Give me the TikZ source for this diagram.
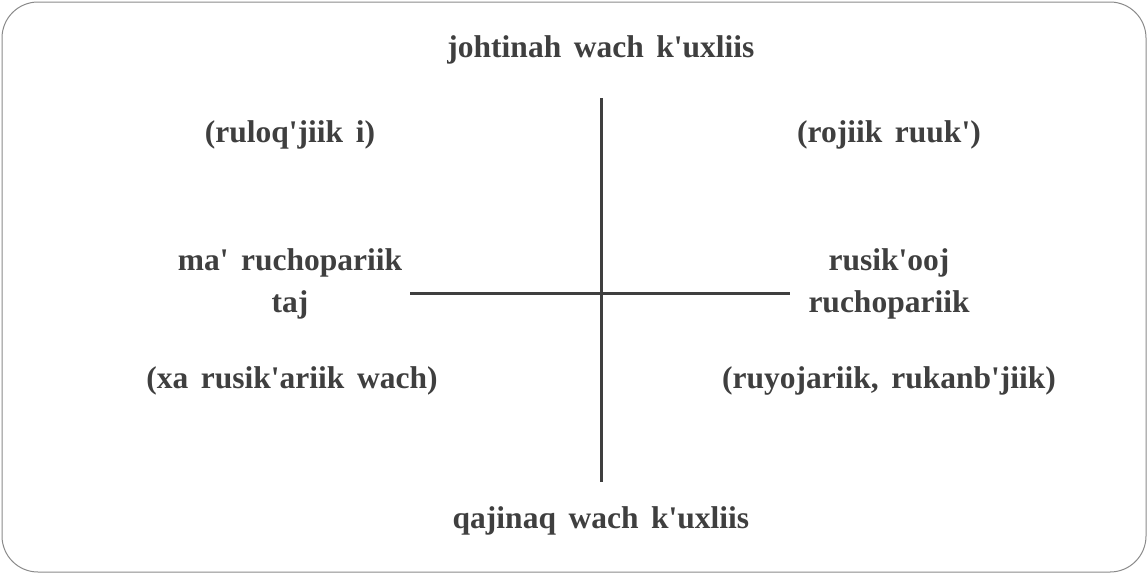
\documentclass[tikz,border=0pt]{standalone}
\usepackage{fontspec}
\setmainfont{Liberation Serif}[Ligatures=TeXOff]
\definecolor{ink}{HTML}{3F3F3F}
\definecolor{frame}{HTML}{8A8A8A}
\newcommand\widesp{\spaceskip=0.4em plus 0.1em\relax}
\begin{document}
\begin{tikzpicture}[x=1pt,y=-1pt,
  lbl/.style={text=ink,font=\fontsize{31.5}{42}\selectfont\bfseries\widesp,align=center,inner sep=0pt},
  axis/.style={draw=ink,line width=3pt}]
\useasboundingbox (0,0) rectangle (1148,574);
\draw[frame,line width=1pt,rounded corners=36pt] (2,2) rectangle (1146,572);
\node[lbl] (top) at (601,50) {johtinah wach k'uxliis};
\node[lbl] (bot) at (601,521) {qajinaq wach k'uxliis};
\node[lbl] (tl) at (290,135) {(ruloq'jiik i)};
\node[lbl] (tr) at (889,135) {(rojiik ruuk')};
\node[lbl] (ml) at (290,284) {ma' ruchopariik\\taj};
\node[lbl] (mr) at (889,284) {rusik'ooj\\ruchopariik};
\node[lbl] (bl) at (292,381) {(xa rusik'ariik wach)};
\node[lbl] (br) at (889,381) {(ruyojariik, rukanb'jiik)};
\coordinate (vt) at (601,98);
\coordinate (vb) at (601,482);
\coordinate (hl) at (410,293);
\coordinate (hr) at (790,293);
\draw[axis] (vt) -- (vb);
\draw[axis] (hl) -- (hr);
\end{tikzpicture}
\end{document}
